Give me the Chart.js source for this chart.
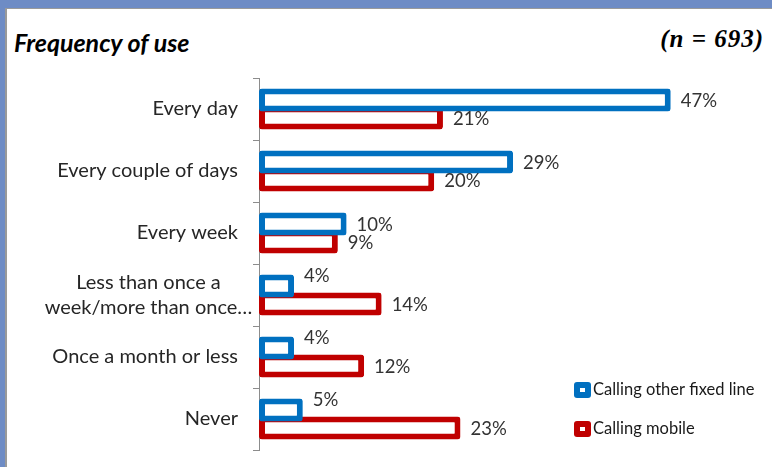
<!DOCTYPE html>
<html>
<head>
<meta charset="utf-8">
<title>Frequency of use</title>
<script src="https://cdn.jsdelivr.net/npm/chart.js@4.4.0/dist/chart.umd.min.js"></script>
<style>
  body { margin: 0; background: #fff; }
  #frame { position: relative; width: 772px; height: 467px; background: #fff; overflow: hidden; }
  .band { position: absolute; background: #6e8cc5; }
  .edge { position: absolute; background: #9a9a9a; }
  #title {
    position: absolute; left: 14px; top: 30px;
    font: italic bold 25px/24px Lato, sans-serif; color: #000;
  }
  #sample {
    position: absolute; right: 8px; top: 27px;
    font: italic bold 25px/24px "Liberation Serif", serif; color: #000;
    letter-spacing: 1px;
  }
  #chart { position: absolute; left: 0; top: 0; }
</style>
</head>
<body>
<div id="frame">
  <div class="band" style="left:0;top:0;width:772px;height:8px"></div>
  <div class="band" style="left:0;top:0;width:5px;height:467px"></div>
  <div class="edge" style="left:5px;top:8px;width:767px;height:1px"></div>
  <div class="edge" style="left:5px;top:8px;width:2px;height:459px"></div>
  <div id="title">Frequency of use</div>
  <div id="sample">(n = 693)</div>
  <canvas id="chart" width="772" height="467"></canvas>
</div>
<script>
// Answer categories (top to bottom)
const categories = [
  'Every day',
  'Every couple of days',
  'Every week',
  ['Less than once a', 'week/more than once…'],
  'Once a month or less',
  'Never'
];

// Share of respondents, in percent
const fixedLine = [47, 29, 10, 4, 4, 5];
const mobile = [21, 20, 9, 14, 12, 23];

const seriesNames = ['Calling other fixed line', 'Calling mobile'];
const seriesColors = ['#0070c0', '#c00000'];

Chart.defaults.font.family = 'Lato, sans-serif';
Chart.defaults.color = '#262626';

// Wrapped category labels are centred on their longest line
const centerWrappedLabels = {
  id: 'centerWrappedLabels',
  beforeDraw(chart) {
    const scale = chart.scales.y;
    const items = scale.getLabelItems(chart.chartArea);
    items.forEach(item => {
      if (Array.isArray(item.label)) {
        item.options.textAlign = 'center';
        item.options.translation = [148.5, item.options.translation[1]];
      }
    });
  }
};

// Percent labels at the end of each bar
const barValueLabels = {
  id: 'barValueLabels',
  afterDatasetsDraw(chart) {
    const ctx = chart.ctx;
    ctx.save();
    ctx.font = '18.5px Lato, sans-serif';
    ctx.fillStyle = '#333333';
    ctx.textAlign = 'left';
    ctx.textBaseline = 'middle';
    chart.data.datasets.forEach((ds, i) => {
      const meta = chart.getDatasetMeta(i);
      meta.data.forEach((bar, j) => {
        let y = bar.y + 1;
        // lift the fixed-line label when the mobile bar runs past it
        if (i === 0 && mobile[j] > fixedLine[j]) y -= 11;
        ctx.fillText(ds.data[j] + '%', bar.x + 10, y);
      });
    });
    ctx.restore();
  }
};

// Legend in the lower right corner
const cornerLegend = {
  id: 'cornerLegend',
  afterDraw(chart) {
    const ctx = chart.ctx;
    ctx.save();
    ctx.font = '16.5px Lato, sans-serif';
    ctx.textAlign = 'left';
    ctx.textBaseline = 'middle';
    chart.data.datasets.forEach((ds, i) => {
      const x = 574, y = 382 + i * 39;
      ctx.fillStyle = ds.borderColor;
      ctx.beginPath();
      ctx.roundRect(x, y, 17, 16, 3);
      ctx.fill();
      ctx.fillStyle = '#fff';
      ctx.fillRect(x + 6, y + 6, 5, 4);
      ctx.fillStyle = '#1a1a1a';
      ctx.fillText(ds.label, x + 19, y + 8);
    });
    ctx.restore();
  }
};

new Chart(document.getElementById('chart'), {
  type: 'bar',
  data: {
    labels: categories,
    datasets: [
      {
        label: seriesNames[0],
        data: fixedLine,
        borderColor: seriesColors[0],
        backgroundColor: '#ffffff',
        borderWidth: 6,
        borderRadius: 3,
        borderSkipped: false
      },
      {
        label: seriesNames[1],
        data: mobile,
        borderColor: seriesColors[1],
        backgroundColor: '#ffffff',
        borderWidth: 6,
        borderRadius: 3,
        borderSkipped: false
      }
    ]
  },
  options: {
    indexAxis: 'y',
    responsive: false,
    animation: false,
    devicePixelRatio: 1,
    categoryPercentage: 0.58,
    barPercentage: 1.28,
    layout: { padding: { top: 78, bottom: 17, left: 0, right: 75 } },
    plugins: {
      legend: { display: false },
      tooltip: { enabled: false },
      title: { display: false }
    },
    scales: {
      x: {
        display: false,
        min: 0,
        max: 50
      },
      y: {
        afterFit(scale) {
          scale.width = 259;
          // keep the axis running the full plot height
          scale.paddingTop = 0;
          scale.paddingBottom = 0;
        },
        grid: {
          drawOnChartArea: false,
          drawTicks: true,
          tickLength: 6,
          color: '#8c8c8c'
        },
        border: { display: true, color: '#8c8c8c', width: 1 },
        ticks: {
          padding: 15,
          color: '#262626',
          font: { size: 20, lineHeight: 1.25 }
        }
      }
    }
  },
  plugins: [centerWrappedLabels, barValueLabels, cornerLegend]
});
</script>
</body>
</html>
